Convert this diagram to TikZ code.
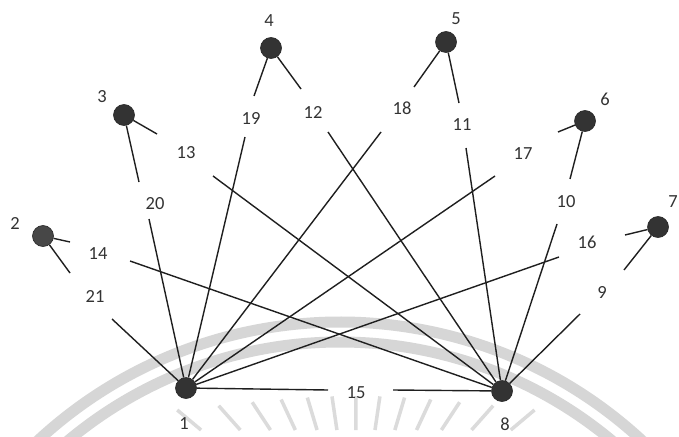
\documentclass[tikz,border=0pt]{standalone}
\usepackage{fontspec}
\setmainfont{Carlito}
\begin{document}
\begin{tikzpicture}[x=1pt,y=-1pt,
  vert/.style={circle,fill=black!80,draw=black!85,line width=0.6pt,minimum size=21pt,inner sep=0pt},
  lab/.style={font=\fontsize{18.5}{20}\selectfont,text=black!80,inner sep=0pt},
  edge/.style={line width=1.4pt,draw=black!88},
  wm/.style={draw=black!16,line width=11pt},
  wmray/.style={draw=black!14,line width=3.5pt}]
\useasboundingbox (0,0) rectangle (679,436);
\fill[white] (0,0) rectangle (679,436);
% faint watermark behind the drawing
\begin{scope}
\clip (0,0) rectangle (679,436);
\foreach \a in {-50,-41.67,...,50} {
  \pgfmathsetmacro{\Ro}{(560-(396+14*(\a/50)*(\a/50)))/cos(\a)}
  \pgfmathsetmacro{\Ri}{130/cos(\a)}
  \draw[wmray] ({356+\Ri*sin(\a)},{560-\Ri*cos(\a)}) -- ({356+\Ro*sin(\a)},{560-\Ro*cos(\a)});
}
\draw[wm] ({340+444*cos(222)},{766+444*sin(222)}) arc[start angle=222,end angle=318,radius=444];
\draw[wm] ({340+424*cos(222)},{766+424*sin(222)}) arc[start angle=222,end angle=318,radius=424];
\end{scope}
% vertices
\node[vert] (n1) at (186,388) {};
\node[vert,fill=black!72] (n2) at (43,236) {};
\node[vert] (n3) at (124,115) {};
\node[vert] (n4) at (271,48) {};
\node[vert] (n5) at (446,42) {};
\node[vert] (n6) at (585,121) {};
\node[vert] (n7) at (658,227) {};
\node[vert] (n8) at (502,391) {};
% vertex labels
\node[lab] (t1) at (184,424) {1};
\node[lab] (t2) at (15,223) {2};
\node[lab] (t3) at (102,97) {3};
\node[lab] (t4) at (269,21) {4};
\node[lab] (t5) at (456,19) {5};
\node[lab] (t6) at (605,99) {6};
\node[lab] (t7) at (673,202) {7};
\node[lab] (t8) at (505,424) {8};
% edge labels
\node[lab] (l9) at (602,292) {9};
\node[lab] (l10) at (566,202) {10};
\node[lab] (l11) at (462,125) {11};
\node[lab] (l12) at (313,112) {12};
\node[lab] (l13) at (186,153) {13};
\node[lab] (l14) at (98,254) {14};
\node[lab] (l15) at (356,393) {15};
\node[lab] (l16) at (587,242) {16};
\node[lab] (l17) at (523,154) {17};
\node[lab] (l18) at (402,108) {18};
\node[lab] (l19) at (251,118) {19};
\node[lab] (l20) at (155,204) {20};
\node[lab] (l21) at (95,296) {21};
% free ends of the edge pieces
\coordinate (e9a) at (624,270);  \coordinate (e9b) at (580,314);
\coordinate (e10a) at (570,179); \coordinate (e10b) at (557,224);
\coordinate (e11a) at (459,103); \coordinate (e11b) at (466,148);
\coordinate (e12a) at (301,89);  \coordinate (e12b) at (328,132);
\coordinate (e13a) at (157,134); \coordinate (e13b) at (213,176);
\coordinate (e14a) at (70,242);  \coordinate (e14b) at (130,261);
\coordinate (e15a) at (328,390); \coordinate (e15b) at (393,390);
\coordinate (e16a) at (625,235); \coordinate (e16b) at (559,257);
\coordinate (e17a) at (558,132); \coordinate (e17b) at (495,176);
\coordinate (e18a) at (414,87);  \coordinate (e18b) at (381,132);
\coordinate (e19a) at (254,96);  \coordinate (e19b) at (245,137);
\coordinate (e20a) at (139,182); \coordinate (e20b) at (149,219);
\coordinate (e21a) at (70,273);  \coordinate (e21b) at (112,319);
% edges, broken where their labels sit
\draw[edge] (n7) -- (e9a);  \draw[edge] (e9b) -- (n8);
\draw[edge] (n6) -- (e10a); \draw[edge] (e10b) -- (n8);
\draw[edge] (n5) -- (e11a); \draw[edge] (e11b) -- (n8);
\draw[edge] (n4) -- (e12a); \draw[edge] (e12b) -- (n8);
\draw[edge] (n3) -- (e13a); \draw[edge] (e13b) -- (n8);
\draw[edge] (n2) -- (e14a); \draw[edge] (e14b) -- (n8);
\draw[edge] (n1) -- (e15a); \draw[edge] (e15b) -- (n8);
\draw[edge] (n7) -- (e16a); \draw[edge] (e16b) -- (n1);
\draw[edge] (n6) -- (e17a); \draw[edge] (e17b) -- (n1);
\draw[edge] (n5) -- (e18a); \draw[edge] (e18b) -- (n1);
\draw[edge] (n4) -- (e19a); \draw[edge] (e19b) -- (n1);
\draw[edge] (n3) -- (e20a); \draw[edge] (e20b) -- (n1);
\draw[edge] (n2) -- (e21a); \draw[edge] (e21b) -- (n1);
\end{tikzpicture}
\end{document}
